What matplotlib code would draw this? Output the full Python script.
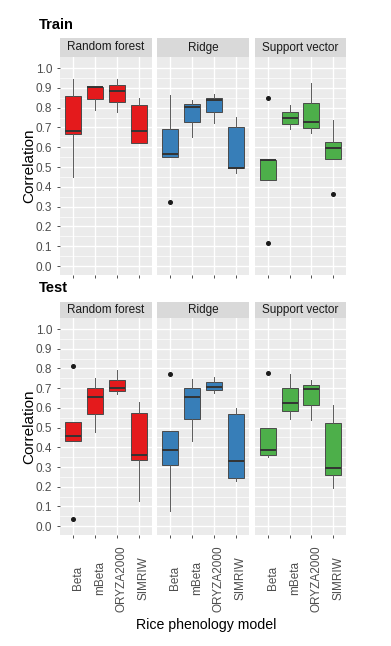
import matplotlib.pyplot as plt
from matplotlib.transforms import ScaledTranslation

plt.rcParams['font.family'] = ['Liberation Sans', 'DejaVu Sans']

models = ["Beta", "mBeta", "ORYZA2000", "SIMRIW"]
methods = ["Random forest", "Ridge", "Support vector"]
colors = ["#E41A1C", "#377EB8", "#4DAF4A"]

# box stats per model: [whislo, q1, med, q3, whishi]
train_rf = [[0.451, 0.666, 0.682, 0.861, 0.944], [0.789, 0.845, 0.904, 0.907, 0.907],
            [0.780, 0.829, 0.885, 0.914, 0.944], [0.620, 0.620, 0.684, 0.814, 0.851]]
train_ridge = [[0.552, 0.552, 0.566, 0.693, 0.865], [0.654, 0.728, 0.804, 0.819, 0.840],
               [0.721, 0.777, 0.838, 0.851, 0.868], [0.468, 0.493, 0.497, 0.703, 0.752]]
train_svr = [[0.434, 0.434, 0.534, 0.535, 0.535], [0.693, 0.720, 0.747, 0.779, 0.813],
             [0.674, 0.699, 0.726, 0.826, 0.927], [0.539, 0.539, 0.598, 0.627, 0.738]]
train_fliers_rf = [[], [], [], []]
train_fliers_ridge = [[0.324], [], [], []]
train_fliers_svr = [[0.851, 0.115], [], [], [0.363]]

test_rf = [[0.434, 0.434, 0.456, 0.530, 0.530], [0.480, 0.567, 0.655, 0.702, 0.753],
           [0.668, 0.685, 0.699, 0.742, 0.790], [0.130, 0.333, 0.362, 0.574, 0.631]]
test_ridge = [[0.079, 0.310, 0.386, 0.483, 0.483], [0.434, 0.545, 0.657, 0.700, 0.744],
              [0.677, 0.692, 0.704, 0.732, 0.756], [0.231, 0.246, 0.330, 0.571, 0.601]]
test_svr = [[0.350, 0.362, 0.386, 0.500, 0.500], [0.542, 0.582, 0.626, 0.700, 0.773],
            [0.539, 0.614, 0.695, 0.717, 0.741], [0.192, 0.261, 0.296, 0.525, 0.613]]
test_fliers_rf = [[0.813, 0.037], [], [], []]
test_fliers_ridge = [[0.771], [], [], []]
test_fliers_svr = [[0.778], [], [], []]

W, H = 391, 646
fig = plt.figure(figsize=(W / 100, H / 100), dpi=100)
fig.patch.set_facecolor("white")


def rect(x0, y0, x1, y1):
    return [x0 / W, 1 - y1 / H, (x1 - x0) / W, (y1 - y0) / H]


panel_x = [(60, 152), (157, 249), (255, 346)]
rows = [
    ("Train", 38, 57, 275, [train_rf, train_ridge, train_svr],
     [train_fliers_rf, train_fliers_ridge, train_fliers_svr], 25),
    ("Test", 302, 318, 535, [test_rf, test_ridge, test_svr],
     [test_fliers_rf, test_fliers_ridge, test_fliers_svr], 288),
]

yticks = [i / 10 for i in range(11)]
minor = [i / 20 for i in range(1, 21, 2)]
pos = [1, 2, 3, 4]

for r, (title, s0, p0, p1, stats_sets, flier_sets, ty) in enumerate(rows):
    fig.text(39 / W, 1 - ty / H, title, fontsize=10.5, fontweight="bold", va="center", ha="left")
    for j, (x0, x1) in enumerate(panel_x):
        sax = fig.add_axes(rect(x0, s0, x1, p0))
        sax.set_facecolor("#D9D9D9")
        sax.set_xticks([]); sax.set_yticks([])
        for sp in sax.spines.values():
            sp.set_visible(False)
        sax.text(0.5, 0.5, methods[j], ha="center", va="center", fontsize=8.5, color="#1A1A1A",
                 transform=sax.transAxes)

        ax = fig.add_axes(rect(x0, p0, x1, p1))
        ax.set_facecolor("#EBEBEB")
        for sp in ax.spines.values():
            sp.set_visible(False)

        stats = []
        for k, s in enumerate(stats_sets[j]):
            stats.append(dict(whislo=s[0], q1=s[1], med=s[2], q3=s[3], whishi=s[4],
                              fliers=flier_sets[j][k]))
        ax.bxp(stats, positions=pos, widths=0.75, patch_artist=True, showcaps=False,
               manage_ticks=False,
               boxprops=dict(facecolor=colors[j], edgecolor="#4A4A4A", lw=0.7),
               whiskerprops=dict(color="#5A5A5A", lw=0.7),
               medianprops=dict(color="#333333", lw=1.4),
               flierprops=dict(marker="o", markersize=2.6, markerfacecolor="#1A1A1A",
                               markeredgecolor="#1A1A1A"))

        ax.set_xlim(0.4, 4.6)
        ax.set_ylim(-0.045, 1.056)
        ax.set_yticks(yticks)
        ax.set_yticks(minor, minor=True)
        ax.set_xticks(pos)
        ax.set_xticks([], minor=True)
        ax.grid(which="major", color="white", lw=1.0)
        ax.grid(which="minor", axis="y", color="white", lw=0.5)
        ax.set_axisbelow(True)
        ax.tick_params(which="minor", length=0)
        ax.tick_params(which="major", length=2.2, color="#333333", width=0.6,
                       labelsize=8.5, labelcolor="#4D4D4D")

        if j == 0:
            ax.set_yticklabels([f"{v:.1f}" for v in yticks])
            ax.set_ylabel("Correlation", fontsize=11, labelpad=-0.5)
        else:
            ax.tick_params(axis="y", length=0, labelleft=False)

        if r == 1:
            ax.set_xticklabels(models, rotation=90, va="center", ha="center")
            ax.tick_params(axis="x", pad=29)
            for lab in ax.get_xticklabels():
                lab.set_transform(lab.get_transform() + ScaledTranslation(5 / 100, 0, fig.dpi_scale_trans))
        else:
            ax.set_xticklabels([])

fig.text(206 / W, 1 - 625 / H, "Rice phenology model", fontsize=10.2, ha="center", va="center")

fig.savefig("out.png", dpi=100)
